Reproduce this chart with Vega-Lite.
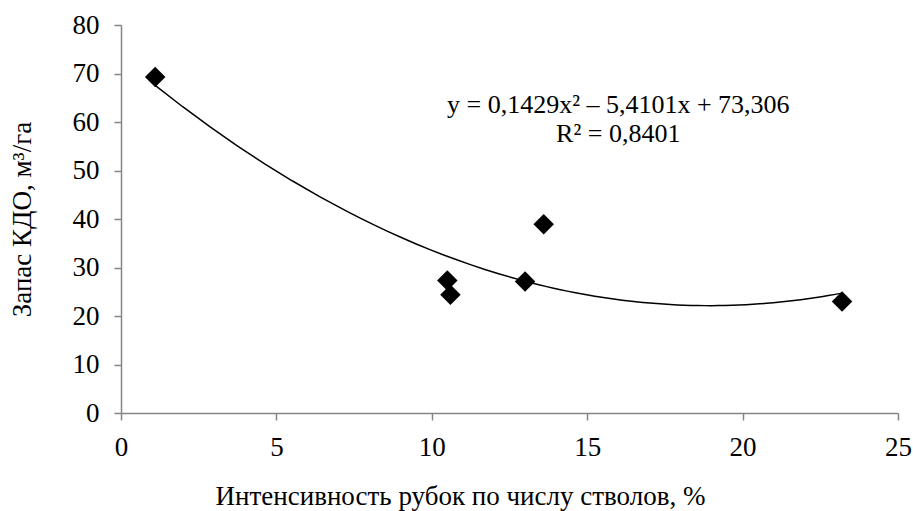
{
  "$schema": "https://vega.github.io/schema/vega-lite/v6.json",
  "width": 777,
  "height": 388,
  "autosize": {"type": "none"},
  "padding": {"left": 121, "top": 25, "right": 15, "bottom": 98},
  "background": "white",
  "config": {
    "view": {"stroke": null},
    "font": "Liberation Serif",
    "axis": {
      "grid": false,
      "domainColor": "#868686",
      "domainWidth": 1.5,
      "tickColor": "#868686",
      "tickWidth": 1.5,
      "tickSize": 7,
      "labelFlush": false,
      "labelOverlap": false,
      "labelFont": "Liberation Serif",
      "labelFontSize": 27,
      "labelColor": "black",
      "titleFont": "Liberation Serif",
      "titleFontSize": 27,
      "titleFontWeight": "normal",
      "titleColor": "black"
    }
  },
  "data": {
    "values": [
      {"intensity": 1.1, "stock": 69.3},
      {"intensity": 10.5, "stock": 27.3},
      {"intensity": 10.6, "stock": 24.4},
      {"intensity": 13.0, "stock": 27.1},
      {"intensity": 13.6, "stock": 38.9},
      {"intensity": 23.2, "stock": 23.0}
    ]
  },
  "layer": [
    {
      "transform": [
        {"regression": "stock", "on": "intensity", "method": "poly", "order": 2}
      ],
      "mark": {"type": "line", "color": "black", "strokeWidth": 1.5},
      "encoding": {
        "x": {
          "field": "intensity", "type": "quantitative",
          "scale": {"domain": [0, 25], "nice": false},
          "axis": {"values": [0, 5, 10, 15, 20, 25], "labelPadding": 14, "title": "Интенсивность рубок по числу стволов, %", "titlePadding": 23, "titleX": 339, "titleAlign": "center"}
        },
        "y": {
          "field": "stock", "type": "quantitative",
          "scale": {"domain": [0, 80], "nice": false},
          "axis": {"values": [0, 10, 20, 30, 40, 50, 60, 70, 80], "labelPadding": 15, "title": "Запас КДО, м³/га", "titlePadding": 36}
        }
      }
    },
    {
      "mark": {"type": "point", "shape": "diamond", "filled": true, "color": "black", "size": 420, "opacity": 1},
      "encoding": {
        "x": {"field": "intensity", "type": "quantitative"},
        "y": {"field": "stock", "type": "quantitative"}
      }
    },
    {
      "data": {"values": [{"label": "equation"}]},
      "mark": {"type": "text", "fontSize": 26, "font": "Liberation Serif", "align": "center", "baseline": "alphabetic", "lineHeight": 29, "color": "black"},
      "encoding": {
        "x": {"datum": 16.0},
        "y": {"datum": 61.9},
        "text": {"value": ["y = 0,1429x² – 5,4101x + 73,306", "R² = 0,8401"]}
      }
    }
  ]
}
